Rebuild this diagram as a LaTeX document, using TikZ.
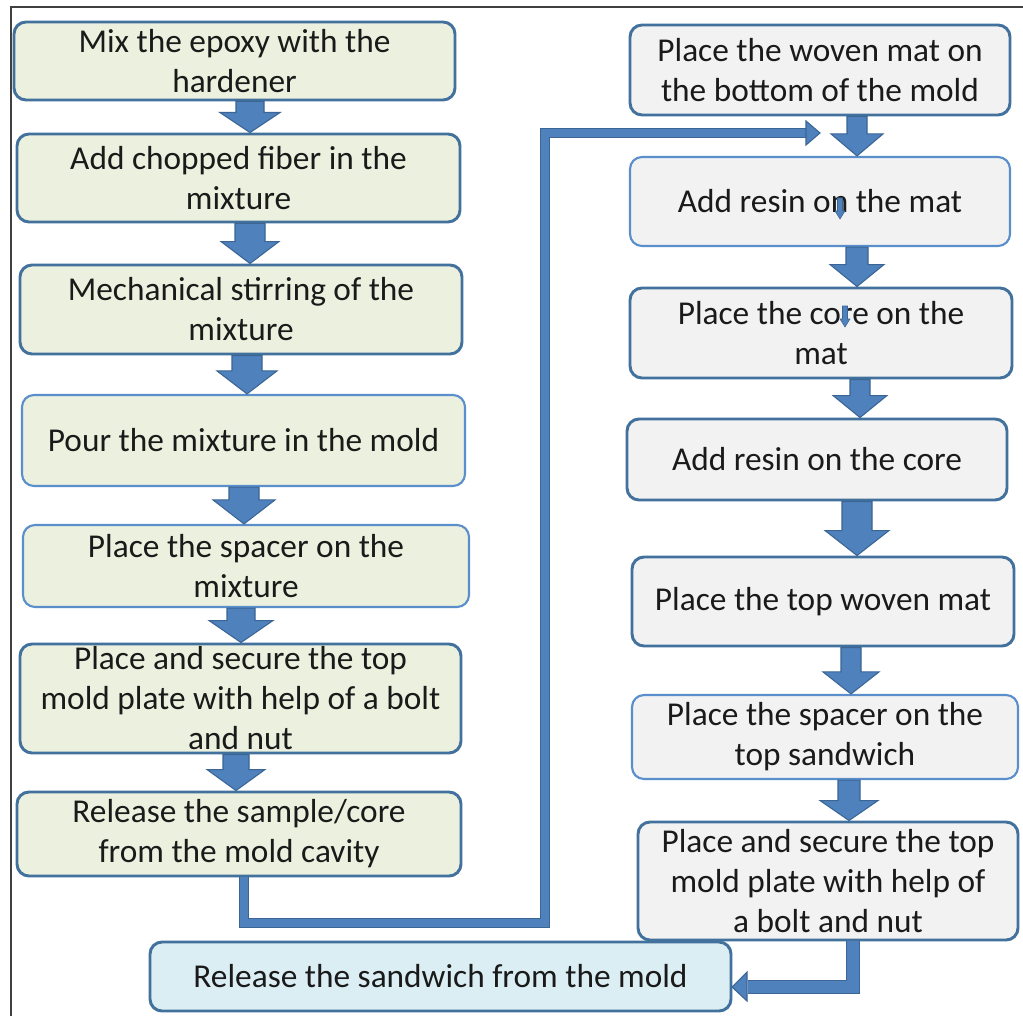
\documentclass[tikz,border=0pt]{standalone}
\usepackage{fontspec}
\setmainfont{Carlito}
\usetikzlibrary{fit,calc}
\definecolor{gfill}{HTML}{EBF1DE}
\definecolor{sfill}{HTML}{F2F2F2}
\definecolor{bfill}{HTML}{DBEEF4}
\definecolor{dk}{HTML}{41719C}
\definecolor{lt}{HTML}{5B8FCC}
\definecolor{afill}{HTML}{4F81BD}
\definecolor{aline}{HTML}{3A6594}
\definecolor{txt}{HTML}{1A1A1A}
\definecolor{frame}{HTML}{404040}
\newcommand\blockarr[6]{%
  \coordinate (ba) at (#1,0);
  \draw[barr] ($(#2.south -| ba)+(-#4,0)$) -- ($(#3.north -| ba)+(-#4,-#6)$)
    -- ($(#3.north -| ba)+(-#5,-#6)$) -- (#3.north -| ba)
    -- ($(#3.north -| ba)+(#5,-#6)$) -- ($(#3.north -| ba)+(#4,-#6)$)
    -- ($(#2.south -| ba)+(#4,0)$) -- cycle;
}
\begin{document}
\begin{tikzpicture}[x=0.75pt,y=-0.75pt,
  lab/.style={inner sep=0pt, align=center, font=\fontsize{25}{30}\selectfont, text=txt},
  box/.style={rounded corners=9pt, inner sep=0pt},
  dkb/.style={box, draw=dk, line width=2.2pt},
  ltb/.style={box, draw=lt, line width=1.6pt},
  barr/.style={fill=afill, draw=aline, line width=0.8pt, line join=miter},
  conn/.style={draw=aline, line width=0.9pt, double=afill, line join=miter, line cap=butt},
]
\useasboundingbox (0,0) rectangle (1023,1016);
\fill[white] (0,0) rectangle (1023,1016);
% frame
\draw[frame, line width=1.5pt] (11,1016) -- (11,7) -- (1023,7);

% left column
\node[dkb, fill=gfill, fit={(14,22)(455,100)}, label={[lab]center:{Mix the epoxy with the\\hardener}}] (l1) {};
\node[dkb, fill=gfill, fit={(17,134)(460,222)}, label={[lab]center:{Add chopped fiber in the\\mixture}}] (l2) {};
\node[dkb, fill=gfill, fit={(20,265)(462,354)}, label={[lab]center:{Mechanical stirring of the\\mixture}}] (l3) {};
\node[ltb, fill=gfill, fit={(22,395)(465,486)}, label={[lab]center:{Pour the mixture in the mold}}] (l4) {};
\node[ltb, fill=gfill, fit={(23,525)(469,607)}, label={[lab]center:{Place the spacer on the\\mixture}}] (l5) {};
\node[dkb, fill=gfill, fit={(20,644)(461,753)}, label={[lab]center:{Place and secure the top\\mold plate with help of a bolt\\and nut}}] (l6) {};
\node[dkb, fill=gfill, fit={(17,792)(461,876)}, label={[lab]center:{Release the sample/core\\from the mold cavity}}] (l7) {};
\node[dkb, fill=bfill, fit={(150,942)(731,1011)}, label={[lab]center:{Release the sandwich from the mold}}] (bot) {};

% right column
\node[dkb, fill=sfill, fit={(630,25)(1010,115)}, label={[lab]center:{Place the woven mat on\\the bottom of the mold}}] (r1) {};
\node[ltb, fill=sfill, fit={(630,157)(1010,246)}, label={[lab]center:{Add resin on the mat}}] (r2) {};
\node[dkb, fill=sfill, fit={(630,288)(1012,378)}, label={[lab]center:{Place the core on the\\mat}}] (r3) {};
\node[dkb, fill=sfill, fit={(627,419)(1007,500)}, label={[lab]center:{Add resin on the core}}] (r4) {};
\node[dkb, fill=sfill, fit={(632,557)(1014,646)}, label={[lab]center:{Place the top woven mat}}] (r5) {};
\node[ltb, fill=sfill, fit={(632,695)(1018,779)}, label={[lab]center:{Place the spacer on the\\top sandwich}}] (r6) {};
\node[dkb, fill=sfill, fit={(638,822)(1018,940)}, label={[lab]center:{Place and secure the top\\mold plate with help of\\a bolt and nut}}] (r7) {};

% block arrows, left
\blockarr{250}{l1}{l2}{14}{30}{20}
\blockarr{250}{l2}{l3}{15}{29}{22}
\blockarr{247}{l3}{l4}{15}{30}{23}
\blockarr{244}{l4}{l5}{15}{31}{24}
\blockarr{241}{l5}{l6}{14}{32}{22}
\blockarr{236}{l6}{l7}{13}{29}{21}
% block arrows, right
\blockarr{857}{r1}{r2}{10}{26}{22}
\blockarr{857}{r2}{r3}{11}{27}{22}
\blockarr{860}{r3}{r4}{10}{27}{22}
\blockarr{857}{r4}{r5}{15}{32}{25}
\blockarr{851}{r5}{r6}{10}{28}{22}
\blockarr{849}{r6}{r7}{11}{29}{20}

% small stray arrows
\draw[barr, line width=0.4pt] (837.5,198) -- (837.5,211) -- (835,211) -- (840,219) -- (845,211) -- (842.5,211) -- (842.5,198) -- cycle;
\draw[barr, line width=0.4pt] (842.5,306) -- (842.5,319) -- (840,319) -- (845,327) -- (850,319) -- (847.5,319) -- (847.5,306) -- cycle;

% connector from left column to right column
\coordinate (c1) at (244,0);
\coordinate (jin) at (820,133);
\draw[conn, double distance=6pt] (l7.south -| c1) -- (244,923) -- (545,923) -- (545,133) -- (807,133);
\draw[barr] (806,121) -- (jin) -- (806,145) -- cycle;

% connector from right column to final box
\coordinate (c2) at (853,0);
\coordinate (fin) at (732,987);
\draw[conn, double distance=9pt] (r7.south -| c2) -- (853,987) -- (748,987);
\draw[barr] (747,972) -- (fin) -- (747,1001) -- cycle;
\end{tikzpicture}
\end{document}
